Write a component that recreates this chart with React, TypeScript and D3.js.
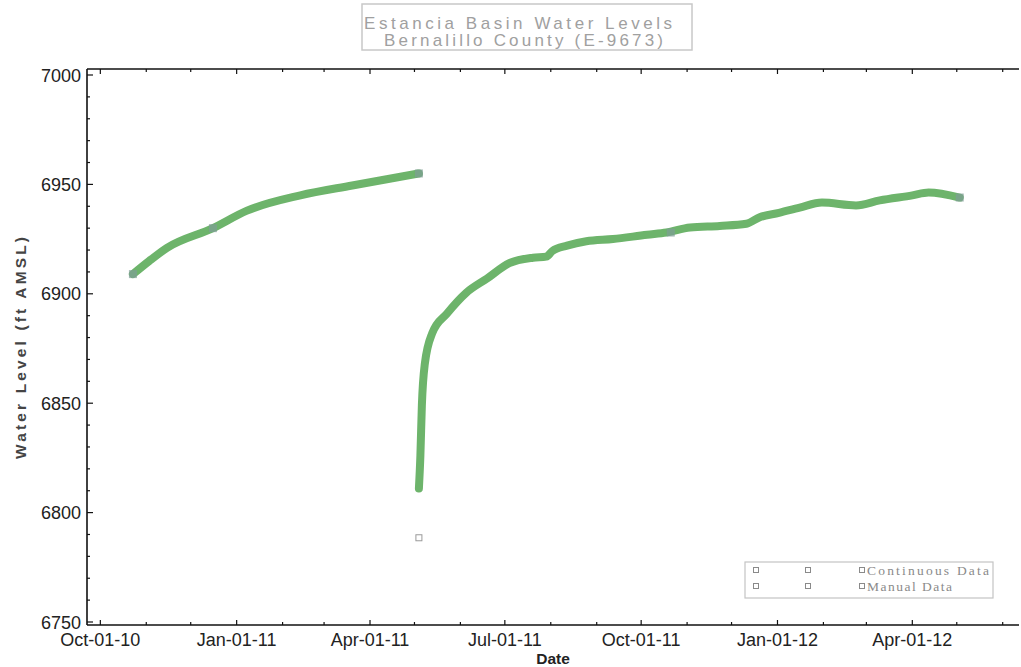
import React from "react";
import * as d3 from "d3";

const continuousA: [string, number][] = [
  ["2010-10-23", 6909], ["2010-11-03", 6915], ["2010-11-15", 6921], ["2010-12-16", 6930],
  ["2011-01-08", 6938], ["2011-02-13", 6945], ["2011-03-20", 6949.5], ["2011-05-04", 6955],
];
const continuousB: [string, number][] = [
  ["2011-05-04", 6811], ["2011-05-05", 6826], ["2011-05-06", 6849], ["2011-05-08", 6868],
  ["2011-05-13", 6882], ["2011-05-23", 6891], ["2011-06-05", 6900.5], ["2011-06-19", 6907],
  ["2011-07-04", 6914], ["2011-07-20", 6916.5], ["2011-07-29", 6917], ["2011-08-02", 6919.5],
  ["2011-08-12", 6922], ["2011-08-25", 6924], ["2011-09-12", 6925], ["2011-10-05", 6927],
  ["2011-10-18", 6928], ["2011-11-03", 6930.3], ["2011-11-23", 6931], ["2011-12-11", 6932],
  ["2011-12-20", 6935], ["2012-01-02", 6937], ["2012-01-16", 6939.4], ["2012-01-31", 6941.7],
  ["2012-02-23", 6940.4], ["2012-03-10", 6942.7], ["2012-04-01", 6945], ["2012-04-12", 6946.3],
  ["2012-05-03", 6944],
];
const manualOnLine: [string, number][] = [
  ["2010-10-23", 6909], ["2010-12-16", 6930], ["2011-05-04", 6955], ["2011-10-21", 6928], ["2012-05-03", 6944],
];
const manualLow: [string, number][] = [["2011-05-04", 6788.5]];
const yTicks = [6750, 6800, 6850, 6900, 6950, 7000];
const xTickLabels = ["2010-10-01", "2011-01-01", "2011-04-01", "2011-07-01", "2011-10-01", "2012-01-01", "2012-04-01"];
const title = ["Estancia Basin Water Levels", "Bernalillo County (E-9673)"];
const legendItems = ["Continuous Data", "Manual Data"];

const parse = d3.utcParse("%Y-%m-%d");
const fmt = d3.utcFormat("%b-%d-%y");

export default function App() {
  const W = 1021, H = 667;
  const left = 87, right = 1019, top = 75, bottom = 622;
  const x = d3.scaleUtc().domain([parse("2010-09-22")!, parse("2012-06-12")!]).range([left, right]);
  const y = d3.scaleLinear().domain([6750, 7000]).range([bottom, top]);
  const line = d3.line<[string, number]>().x(d => x(parse(d[0])!)).y(d => y(d[1])).curve(d3.curveMonotoneX);
  const months = d3.utcMonth.range(x.domain()[0], x.domain()[1]);
  const minorY = d3.range(6750, 7001, 10);
  const axisY = bottom + 3;
  const font = "'Liberation Sans', Arial, sans-serif";
  return (
    <svg width={W} height={H} style={{ position: "absolute", left: 0, top: 0, background: "#fff" }}>
      <rect x={0} y={0} width={W} height={H} fill="#fff" />
      {/* title box */}
      <rect x={362} y={4} width={330} height={46} fill="#fff" stroke="#c8c8c8" strokeWidth={1.5} />
      {title.map((t, i) => (
        <text key={t} x={i === 0 ? 364 : 384} y={i === 0 ? 29 : 46} fontFamily={font} fontSize={17} fill="#a0a0a0"
          textLength={i === 0 ? 308 : 279} lengthAdjust="spacing">{t}</text>
      ))}
      {/* frame */}
      <line x1={left} x2={right} y1={top - 6} y2={top - 6} stroke="#111" strokeWidth={1.6} />
      <line x1={left} x2={left} y1={top - 6} y2={axisY} stroke="#111" strokeWidth={1.6} />
      <line x1={left} x2={right} y1={axisY} y2={axisY} stroke="#111" strokeWidth={1.6} />
      {minorY.map(v => (
        <line key={v} x1={left} x2={left + (v % 50 === 0 ? 6 : 3)} y1={y(v)} y2={y(v)} stroke="#111" strokeWidth={1.2} />
      ))}
      {months.map(m => {
        const major = [0, 3, 6, 9].includes(m.getUTCMonth());
        return (
          <g key={+m}>
            <line x1={x(m)} x2={x(m)} y1={axisY} y2={axisY - (major ? 5 : 3)} stroke="#111" strokeWidth={1.2} />
            <line x1={x(m)} x2={x(m)} y1={top - 6} y2={top - 6 + (major ? 5 : 3)} stroke="#111" strokeWidth={1.2} />
          </g>
        );
      })}
      {yTicks.map(v => (
        <text key={v} x={left - 6} y={y(v) + 6.5} textAnchor="end" fontFamily={font} fontSize={18} fill="#222">{v}</text>
      ))}
      {xTickLabels.map(s => (
        <text key={s} x={x(parse(s)!)} y={646} textAnchor="middle" fontFamily={font} fontSize={18} fill="#222">{fmt(parse(s)!)}</text>
      ))}
      <text x={553} y={664} textAnchor="middle" fontFamily={font} fontSize={15.5} fontWeight="bold" fill="#222">Date</text>
      <text transform="translate(26,348) rotate(-90)" textAnchor="middle" fontFamily={font} fontSize={15.5} fontWeight="bold" fill="#444"
        textLength={222} lengthAdjust="spacing">Water Level (ft AMSL)</text>
      {/* data */}
      {[continuousA, continuousB].map((s, i) => (
        <path key={i} d={line(s)!} fill="none" stroke="#6db46b" strokeWidth={8} strokeLinecap="round" strokeLinejoin="round" />
      ))}
      {manualOnLine.map(d => (
        <rect key={d[0]} x={x(parse(d[0])!) - 4} y={y(d[1]) - 4} width={8} height={8} fill="#7f9c96" opacity={0.7} />
      ))}
      {manualLow.map(d => (
        <rect key={d[0]} x={x(parse(d[0])!) - 3} y={y(d[1]) - 3} width={6} height={6} fill="#fff" stroke="#9a9a9a" strokeWidth={1} />
      ))}
      {/* legend */}
      <rect x={745} y={562} width={248} height={36} fill="#fff" stroke="#c4c4c4" strokeWidth={1.2} />
      {legendItems.map((t, i) => (
        <g key={t}>
          {[756, 808, 862].map(px => (
            <rect key={px} x={px - 2.5} y={570 + i * 16 - 2.5} width={5} height={5} fill="#fff" stroke="#8a8a8a" strokeWidth={1} />
          ))}
          <text x={867} y={575 + i * 16} fontFamily="'Liberation Serif', serif" fontSize={13.5} fill="#8a8a8a"
            textLength={i === 0 ? 122 : 85} lengthAdjust="spacing">{t}</text>
        </g>
      ))}
    </svg>
  );
}
